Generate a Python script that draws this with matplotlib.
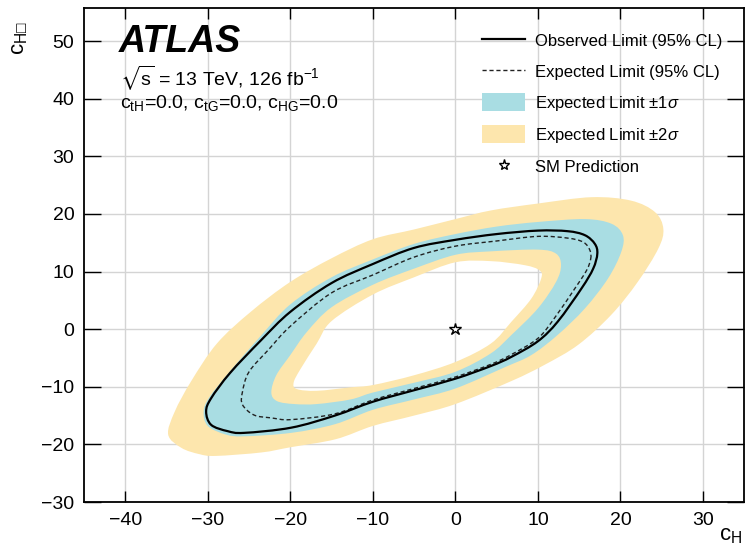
import numpy as np
import matplotlib
matplotlib.use("Agg")
from matplotlib import pyplot as plt
from matplotlib.path import Path
from matplotlib.patches import PathPatch, Patch
from matplotlib.lines import Line2D

plt.rcParams["font.family"] = ["Liberation Sans", "DejaVu Sans"]
plt.rcParams["mathtext.fontset"] = "custom"
plt.rcParams["mathtext.rm"] = "Liberation Sans"
plt.rcParams["mathtext.it"] = "Liberation Sans:italic"
plt.rcParams["mathtext.fallback"] = "stixsans"

# contours (c_H, c_H-box)
obs_x = [17.2, 16.9, 15.7, 13.6, 10.0, 5.0, 0.0, -5.0, -10.0, -15.0, -20.0, -23.6, -27.3, -29.6, -30.2,
         -29.6, -27.6, -25.6, -19.9, -14.6, -10.0, -5.0, 0.0, 4.3, 6.8, 10.0, 12.4, 15.3, 16.7]
obs_y = [13.1, 14.8, 16.3, 17.0, 17.1, 16.5, 15.5, 14.1, 11.3, 8.0, 3.0, -2.0, -7.6, -12.0, -14.3,
         -16.6, -17.7, -18.0, -17.1, -15.0, -12.6, -10.6, -8.6, -6.4, -4.8, -2.1, 1.3, 7.1, 10.5]

exp_x = [16.4, 16.3, 15.5, 13.6, 10.0, 5.0, 0.0, -5.0, -10.0, -15.0, -20.0, -22.6, -25.0, -25.8,
         -25.8, -24.4, -22.3, -19.9, -14.6, -10.0, -5.0, 0.0, 4.3, 6.8, 10.0, 12.0, 14.5, 15.9]
exp_y = [12.2, 13.7, 15.1, 15.8, 16.1, 15.3, 14.4, 12.5, 9.4, 6.3, 0.5, -3.5, -7.4, -10.9,
         -13.1, -14.9, -15.4, -15.7, -14.7, -12.3, -10.3, -8.3, -6.1, -4.4, -1.6, 1.9, 7.1, 10.2]

s1_out_x = [20.1, 20.3, 18.9, 15.7, 10.0, 5.0, 0.0, -5.0, -10.0, -15.0, -20.0, -23.6, -27.3, -29.8,
            -30.5, -30.0, -27.8, -25.6, -19.9, -14.6, -10.0, -5.0, 0.0, 6.0, 9.2, 12.4, 15.7, 18.5]
s1_out_y = [13.4, 16.3, 18.3, 19.1, 18.6, 17.8, 16.5, 14.8, 12.1, 9.0, 4.3, -1.2, -7.3, -11.8,
            -14.3, -16.8, -18.3, -18.6, -18.0, -16.5, -14.0, -12.2, -10.3, -6.6, -4.5, -1.0, 3.6, 8.8]

s1_in_x = [12.8, 12.2, 10.0, 4.3, 0.0, -5.0, -10.0, -15.0, -18.0, -20.0, -21.7, -22.3, -21.6,
           -19.5, -16.8, -12.7, -10.0, -5.0, 0.0, 4.3, 6.8, 10.0, 12.2]
s1_in_y = [11.1, 13.1, 13.8, 13.5, 12.9, 10.5, 7.7, 3.8, -0.5, -4.5, -8.0, -11.0, -12.5,
           -13.0, -13.0, -12.2, -11.0, -9.3, -7.4, -4.2, -1.0, 3.6, 8.2]

s2_in_x = [10.4, 10.2, 8.4, 4.3, 0.0, -5.0, -10.0, -15.0, -16.8, -18.8, -19.6, -19.2, -16.8,
           -12.7, -10.0, -5.0, 0.0, 4.3, 6.8, 9.2]
s2_in_y = [8.8, 10.2, 11.1, 11.8, 11.6, 9.0, 6.0, 1.4, -2.5, -7.0, -9.3, -10.4, -10.7,
           -10.1, -9.7, -8.0, -5.7, -2.5, 1.3, 5.3]

s2_out_x = [24.6, 25.2, 24.2, 21.3, 16.5, 10.0, 4.3, 0.0, -5.0, -10.0, -15.0, -20.0, -24.8, -28.9,
            -32.0, -34.0, -34.8, -33.2, -31.0, -29.0, -23.5, -20.0, -14.5, -10.0, -5.0, 0.0, 6.8,
            10.8, 14.9, 18.9, 22.1]
s2_out_y = [14.0, 17.4, 20.3, 22.3, 22.9, 21.8, 20.6, 19.1, 17.3, 15.6, 12.3, 8.2, 3.0, -2.5,
            -9.0, -14.3, -18.3, -20.6, -21.7, -22.0, -21.4, -20.5, -19.1, -16.8, -15.0, -13.0, -9.0,
            -6.2, -2.7, 2.5, 8.2]

sm_x, sm_y = 0.0, 0.0

blue = "#a9dde3"
yellow = "#fde6ad"


def smooth_loop(x, y, reverse=False):
    # closed curve through the read points, drawn as cubic Bezier segments
    p = np.column_stack([x, y])
    if reverse:
        p = p[::-1]
    n = len(p)
    verts = [p[0]]
    codes = [Path.MOVETO]
    for i in range(n):
        p0, p1, p2, p3 = p[i - 1], p[i], p[(i + 1) % n], p[(i + 2) % n]
        verts += [p1 + (p2 - p0) / 6.0, p2 - (p3 - p1) / 6.0, p2]
        codes += [Path.CURVE4] * 3
    verts.append(p[0])
    codes.append(Path.CLOSEPOLY)
    return np.array(verts), codes


def signed_area(x, y):
    x = np.asarray(x)
    y = np.asarray(y)
    return 0.5 * np.sum(x * np.roll(y, -1) - np.roll(x, -1) * y)


def ring(xo, yo, xi, yi):
    vo, co = smooth_loop(xo, yo, reverse=signed_area(xo, yo) < 0)
    vi, ci = smooth_loop(xi, yi, reverse=signed_area(xi, yi) > 0)
    return Path(np.vstack([vo, vi]), co + ci)


def loop(x, y):
    v, c = smooth_loop(x, y)
    return Path(v, c)


fig = plt.figure(figsize=(7.46, 5.53), dpi=100)
ax = fig.add_axes([0.1126, 0.0922, 0.885, 0.893])

ax.add_patch(PathPatch(ring(s2_out_x, s2_out_y, s2_in_x, s2_in_y), facecolor=yellow, edgecolor="none", zorder=1))
ax.add_patch(PathPatch(ring(s1_out_x, s1_out_y, s1_in_x, s1_in_y), facecolor=blue, edgecolor="none", zorder=2))
ax.add_patch(PathPatch(loop(exp_x, exp_y), facecolor="none", edgecolor="#222222", lw=1.0,
                       ls=(0, (3, 2)), zorder=3))
ax.add_patch(PathPatch(loop(obs_x, obs_y), facecolor="none", edgecolor="black", lw=1.6, zorder=4))
ax.plot(sm_x, sm_y, marker="*", ms=9, mfc="white", mec="black", mew=1.0, ls="none", zorder=5)

ax.set_xlim(-45, 35)
ax.set_ylim(-30, 55.7)
ax.set_xticks(np.arange(-40, 31, 10))
ax.set_yticks(np.arange(-30, 51, 10))
ax.grid(True, color="#d4d4d4", lw=1.0, zorder=0)
ax.set_axisbelow(True)
ax.tick_params(axis="both", which="major", direction="in", top=True, right=True,
               labelsize=14, width=1.0, pad=7)
ax.tick_params(axis="x", length=8)
ax.tick_params(axis="y", length=12)
for sp in ax.spines.values():
    sp.set_linewidth(1.3)

fig.text(0.995, 0.012, r"c$_{\mathrm{H}}$", fontsize=16, ha="right", va="bottom")
fig.text(0.012, 0.962, "c$_{\\mathrm{H}\u25a1}$", fontsize=16, rotation=90, ha="left", va="top")

ax.text(0.052, 0.968, "ATLAS", transform=ax.transAxes, fontsize=27, fontweight="bold",
        fontstyle="italic", ha="left", va="top")
ax.text(0.055, 0.842, r"$\sqrt{\mathrm{s}}$ = 13 TeV, 126 fb$^{-1}$", transform=ax.transAxes,
        fontsize=14, ha="left", va="baseline")
ax.text(0.055, 0.798, r"c$_{\mathrm{tH}}$=0.0, c$_{\mathrm{tG}}$=0.0, c$_{\mathrm{HG}}$=0.0",
        transform=ax.transAxes, fontsize=14, ha="left", va="baseline")

handles = [
    Line2D([], [], color="black", lw=1.6),
    Line2D([], [], color="#222222", lw=1.0, ls=(0, (3, 2))),
    Patch(facecolor=blue, edgecolor="none"),
    Patch(facecolor=yellow, edgecolor="none"),
    Line2D([], [], marker="*", ms=8, mfc="white", mec="black", ls="none"),
]
labels = ["Observed Limit (95% CL)", "Expected Limit (95% CL)", r"Expected Limit $\pm$1$\sigma$",
          r"Expected Limit $\pm$2$\sigma$", "SM Prediction"]
ax.legend(handles, labels, loc="upper right", bbox_to_anchor=(0.99, 0.983), frameon=False,
          fontsize=12, handlelength=2.6, handleheight=1.3, labelspacing=0.75, handletextpad=0.6)

fig.savefig("out.png", dpi=100)
